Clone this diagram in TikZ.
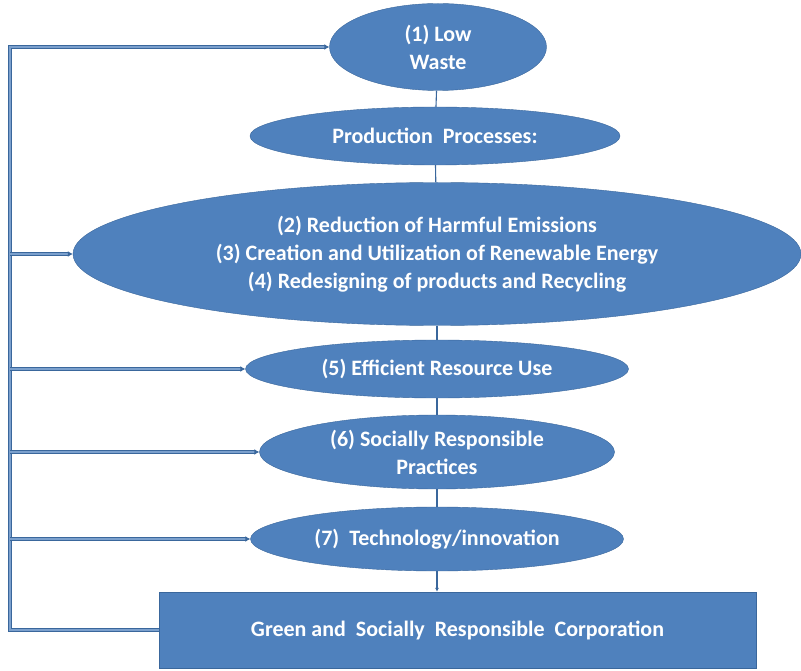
\documentclass[tikz,border=0pt]{standalone}
\usepackage{fontspec}
\setmainfont{Carlito}
\usetikzlibrary{shapes.geometric,arrows.meta}
\definecolor{officeblue}{HTML}{4F81BD}
\definecolor{officeline}{HTML}{3A679C}

\begin{document}
\begin{tikzpicture}[x = 1pt, y = -1pt,
    every node/.style = {fill = officeblue, draw = officeline, text = white, align = center,
        inner sep = 0pt, font = \bfseries\fontsize{22}{28}\selectfont},
    goal/.style = {shape = ellipse},
    link/.style = {draw = officeline, line width = 1.1pt},
    feed/.style = {draw = officeline, line width = 1.4pt, double = officeblue!75!white,
        double distance = 1.6pt, -{Latex[length = 5pt, width = 6pt]}}]
    \useasboundingbox (0,0) rectangle (801,671);
    \node[goal, minimum width = 217pt, minimum height = 87pt] (waste) at (438,47) {(1) Low\\Waste};
    \node[goal, minimum width = 370pt, minimum height = 58pt] (process) at (435,136) {Production\ \ Processes:};
    \node[goal, minimum width = 728pt, minimum height = 143pt] (emission) at (437,254)
        {(2) Reduction\ of\ Harmful Emissions\\(3) Creation\ and\ Utilization\ of\ Renewable Energy\\(4) Redesigning\ of\ products\ and\ Recycling};
    \node[goal, minimum width = 383pt, minimum height = 58pt] (resource) at (437,369) {(5) Efficient Resource Use};
    \node[goal, minimum width = 355pt, minimum height = 74pt] (social) at (437,452) {(6) Socially\ Responsible\\Practices};
    \node[goal, minimum width = 373pt, minimum height = 64pt] (tech) at (437,539) {(7)\ \ Technology/innovation};
    \node[minimum width = 597pt, minimum height = 76pt] (corp) at (457.5,630) {Green and\ \ Socially\ \ Responsible\ \ Corporation};
    \coordinate (bus) at (10,0);
    % chain down the middle
    \draw[link] (waste) -- (process);
    \draw[link] (process) -- (emission);
    \draw[link] (emission) -- (resource);
    \draw[link] (resource) -- (social);
    \draw[link] (social) -- (tech);
    \draw[link, -{Latex[length = 4pt, width = 4pt]}] (tech.south) -- (tech.south |- corp.north);
    % feedback bus on the left
    \draw[feed] (corp.west) -- (bus |- corp.west) -- (bus |- waste.west) -- (waste.west);
    \draw[feed] (bus |- emission.west) -- (emission.west);
    \draw[feed] (bus |- resource.west) -- (resource.west);
    \draw[feed] (bus |- social.west) -- (social.west);
    \draw[feed] (bus |- tech.west) -- (tech.west);
\end{tikzpicture}
\end{document}
